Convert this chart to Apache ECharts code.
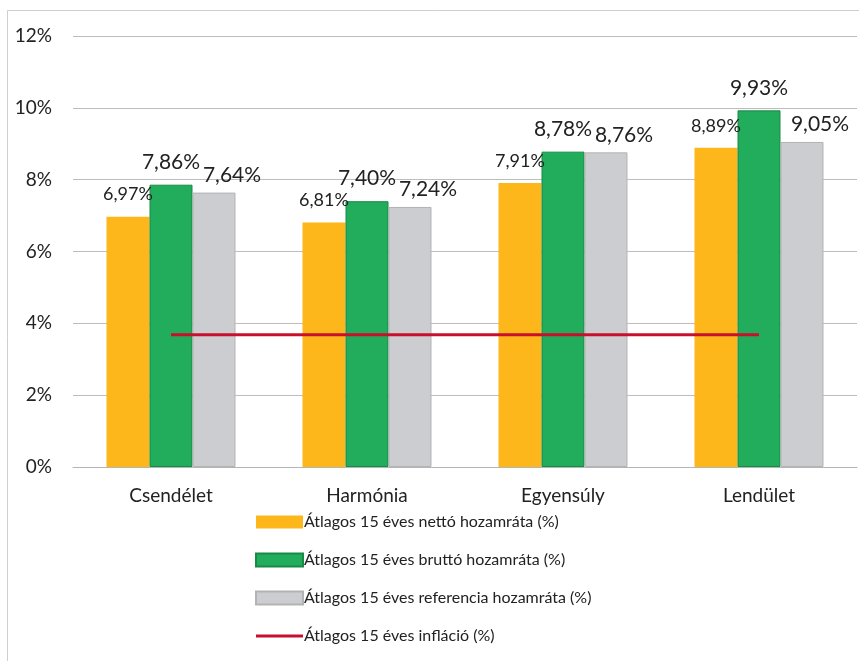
<!DOCTYPE html>
<html><head><meta charset="utf-8">
<script src="https://cdn.jsdelivr.net/npm/echarts@6/dist/echarts.min.js"></script>
<style>html,body{margin:0;padding:0;background:#fff}#c{width:859px;height:661px}</style>
</head><body><div id="c"></div>
<script>
const categories = ['Csendélet', 'Harmónia', 'Egyensúly', 'Lendület'];
const netto = [6.97, 6.81, 7.91, 8.89];
const brutto = [7.86, 7.40, 8.78, 9.93];
const referencia = [7.64, 7.24, 8.76, 9.05];
const inflacio = [3.68, 3.68, 3.68, 3.68];
const yTicks = [0, 2, 4, 6, 8, 10, 12];
const names = ['Átlagos 15 éves nettó hozamráta (%)', 'Átlagos 15 éves bruttó hozamráta (%)', 'Átlagos 15 éves referencia hozamráta (%)', 'Átlagos 15 éves infláció (%)'];

const FF = 'Lato, "Open Sans", sans-serif';
const fmt = p => p.value.toFixed(2).replace('.', ',') + '%';
const chart = echarts.init(document.getElementById('c'));
chart.setOption({
  animation: false,
  textStyle: { fontFamily: FF },
  graphic: [{ type: 'rect', shape: { x: 7.5, y: 10.5, width: 900, height: 700 }, style: { fill: 'none', stroke: '#cfcfcf', lineWidth: 1 }, silent: true }],
  grid: { left: 73, right: 2, top: 36, bottom: 194 },
  legend: {
    orient: 'vertical', left: 250, top: 509, itemWidth: 47, itemHeight: 13, itemGap: 22,
    icon: 'rect',
    textStyle: { fontSize: 16, color: '#222', fontFamily: FF, padding: [0, 0, 0, -4] },
    data: [
      { name: names[0] }, { name: names[1] }, { name: names[2] },
      { name: names[3], icon: 'path://M0,0 L0.01,0 L0.01,0.01 Z M47,13 L46.99,13 L46.99,12.99 Z M0,5 L47,5 L47,8 L0,8 Z', itemStyle: { color: '#C8102E' } }
    ]
  },
  xAxis: {
    type: 'category', data: categories,
    axisTick: { show: false },
    axisLine: { lineStyle: { color: '#b5b5b5' } },
    axisLabel: { fontSize: 19, color: '#222', margin: 19, fontFamily: FF }
  },
  yAxis: {
    type: 'value', min: yTicks[0], max: yTicks[yTicks.length - 1], interval: 2,
    axisLabel: { formatter: v => v + '%', fontSize: 19, color: '#222', margin: 21, fontFamily: FF },
    splitLine: { lineStyle: { color: '#bdbdbd' } },
    axisLine: { show: false }, axisTick: { show: false }
  },
  series: [
    { name: names[0], type: 'bar', data: netto, barWidth: 43, barGap: '0%',
      itemStyle: { color: '#FDB71A' },
      label: { show: true, position: 'top', distance: 13, formatter: fmt, fontSize: 18, color: '#222', fontFamily: FF } },
    { name: names[1], type: 'bar', data: brutto, barWidth: 43,
      itemStyle: { color: '#22AD5C', borderColor: '#178a45', borderWidth: 1 },
      label: { show: true, position: 'top', distance: 12, formatter: fmt, fontSize: 21, color: '#222', fontFamily: FF } },
    { name: names[2], type: 'bar', data: referencia, barWidth: 43,
      itemStyle: { color: '#CBCDD0', borderColor: '#b3b3b3', borderWidth: 1 },
      label: { show: true, position: 'top', distance: 7, offset: [18, 0], formatter: fmt, fontSize: 21, color: '#222', fontFamily: FF } },
    { name: names[3], type: 'line', data: inflacio, symbol: 'none',
      lineStyle: { color: '#C8102E', width: 3 }, itemStyle: { color: '#C8102E' }, z: 5 }
  ]
});
</script></body></html>
